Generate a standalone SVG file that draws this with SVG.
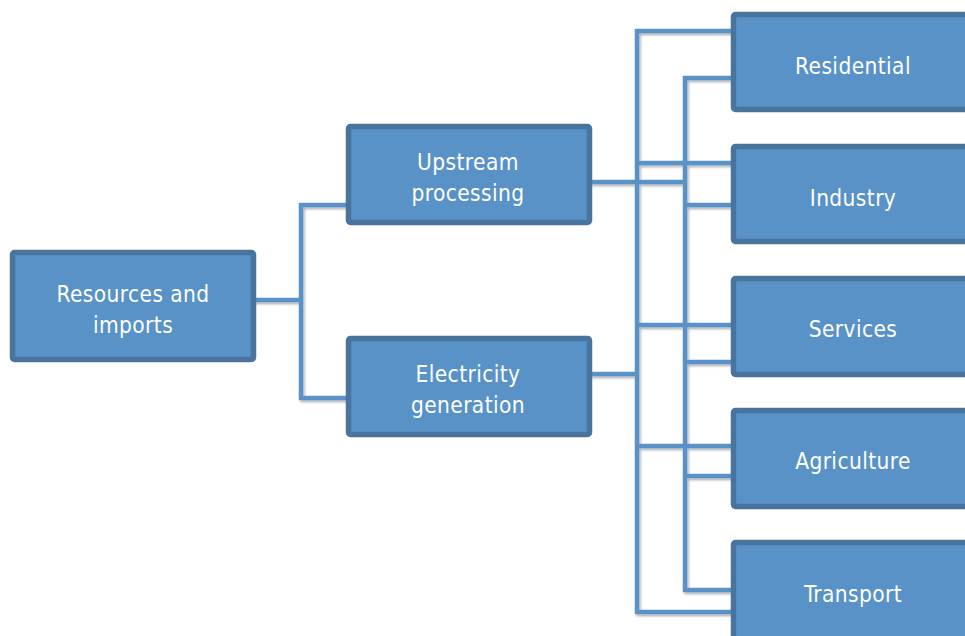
<svg xmlns="http://www.w3.org/2000/svg" width="965" height="636" viewBox="0 0 965 636">
<defs>
<filter id="sh" x="-10%" y="-10%" width="130%" height="130%">
<feDropShadow dx="1.5" dy="2" stdDeviation="1.2" flood-color="#000" flood-opacity="0.3"/>
</filter>
</defs>
<style>
.box{fill:#5892c7;stroke:#48749e;stroke-width:5.5;}
.lbl{font-family:"DejaVu Sans Condensed","DejaVu Sans",sans-serif;font-stretch:condensed;font-size:22.5px;letter-spacing:0.4px;fill:#ffffff;text-anchor:middle;}
.c{fill:none;stroke:#5892c7;stroke-width:4.5;stroke-linejoin:miter;stroke-linecap:butt;}
</style>
<rect width="965" height="636" fill="#ffffff"/>
<g id="connectors" filter="url(#sh)">
<path class="c" d="M254,300 H301 M347,205 H301 V398 H347"/>
<path class="c" d="M590,182 H685"/>
<path class="c" d="M590,374 H637"/>
<path class="c" d="M732,31 H637 V612 H732 M637,163 H732 M637,325 H732 M637,446 H732"/>
<path class="c" d="M732,78 H685 V590 H732 M685,205 H732 M685,362 H732 M685,476 H732"/>
</g>
<g id="resources"><rect class="box" x="12.5" y="252.5" width="241" height="107" rx="2"/><text class="lbl" x="133" y="302">Resources and</text><text class="lbl" x="133" y="333">imports</text></g>
<g id="upstream"><rect class="box" x="348.5" y="126.5" width="241" height="96" rx="2"/><text class="lbl" x="468" y="170">Upstream</text><text class="lbl" x="468" y="201">processing</text></g>
<g id="electricity"><rect class="box" x="348.5" y="338.5" width="241" height="96" rx="2"/><text class="lbl" x="468" y="382">Electricity</text><text class="lbl" x="468" y="413">generation</text></g>
<g id="residential"><rect class="box" x="733.5" y="14.5" width="241" height="95" rx="2"/><text class="lbl" x="853" y="74">Residential</text></g>
<g id="industry"><rect class="box" x="733.5" y="146.5" width="241" height="95" rx="2"/><text class="lbl" x="853" y="206">Industry</text></g>
<g id="services"><rect class="box" x="733.5" y="278.5" width="241" height="96" rx="2"/><text class="lbl" x="853" y="337">Services</text></g>
<g id="agriculture"><rect class="box" x="733.5" y="410.5" width="241" height="96" rx="2"/><text class="lbl" x="853" y="469">Agriculture</text></g>
<g id="transport"><rect class="box" x="733.5" y="542.5" width="241" height="100" rx="2"/><text class="lbl" x="853" y="602">Transport</text></g>
</svg>
